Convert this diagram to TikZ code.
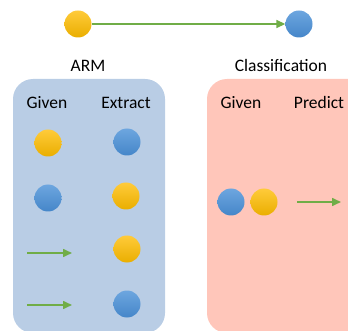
\documentclass[tikz,border=0pt]{standalone}
\usepackage{fontspec}
\setmainfont{Carlito}
\usetikzlibrary{arrows.meta}
\definecolor{armbg}{HTML}{B9CDE5}
\definecolor{clsbg}{HTML}{FFC6BA}
\definecolor{ytop}{HTML}{FFCB3A}
\definecolor{ybot}{HTML}{EAAE00}
\definecolor{btop}{HTML}{6DA6DF}
\definecolor{bbot}{HTML}{4586C9}
\definecolor{grn}{HTML}{70AD47}
\tikzset{
  ydot/.style={circle, minimum size=27pt, inner sep=0pt, top color=ytop, bottom color=ybot, draw=none},
  bdot/.style={circle, minimum size=27pt, inner sep=0pt, top color=btop, bottom color=bbot, draw=none},
  garrow/.style={draw=grn, line width=1.6pt, -{Triangle[length=9pt,width=8pt]}},
  lbl/.style={font=\fontsize{17.5}{21}\selectfont, inner sep=0pt, anchor=base}
}
\begin{document}
\begin{tikzpicture}[x=1pt,y=-1pt]
\useasboundingbox (0,0) rectangle (348,331);
\clip (0,0) rectangle (348,331);
% panels
\fill[armbg, rounded corners=20pt] (13,79) rectangle (165,333);
\fill[clsbg, rounded corners=20pt] (207,79) rectangle (370,333);
% top
\node[ydot] (y0) at (78,24) {};
\node[bdot] (b0) at (299,24) {};
\draw[garrow] (y0) -- (b0);
\node[lbl] (arm) at (88,72) {ARM};
\node[lbl] (cls) at (281,72) {Classification};
% ARM panel
\node[lbl] (g1) at (47,109) {Given};
\node[lbl] (ex) at (126,109) {Extract};
\node[ydot] (a1) at (48,143) {};
\node[bdot] (a2) at (48,198) {};
\node[bdot] (e1) at (127,142) {};
\node[ydot] (e2) at (126,196) {};
\node[ydot] (e3) at (127,249) {};
\node[bdot] (e4) at (127,304) {};
\coordinate (s1) at (27,253);
\coordinate (t1) at (72,253);
\coordinate (s2) at (27,305);
\coordinate (t2) at (72,305);
\draw[garrow] (s1) -- (t1);
\draw[garrow] (s2) -- (t2);
% Classification panel
\node[lbl] (g2) at (241,109) {Given};
\node[lbl] (pr) at (319,109) {Predict};
\node[bdot] (c1) at (231,202) {};
\node[ydot] (c2) at (264,202) {};
\coordinate (s3) at (297,202);
\coordinate (t3) at (341,202);
\draw[garrow] (s3) -- (t3);
\end{tikzpicture}
\end{document}
